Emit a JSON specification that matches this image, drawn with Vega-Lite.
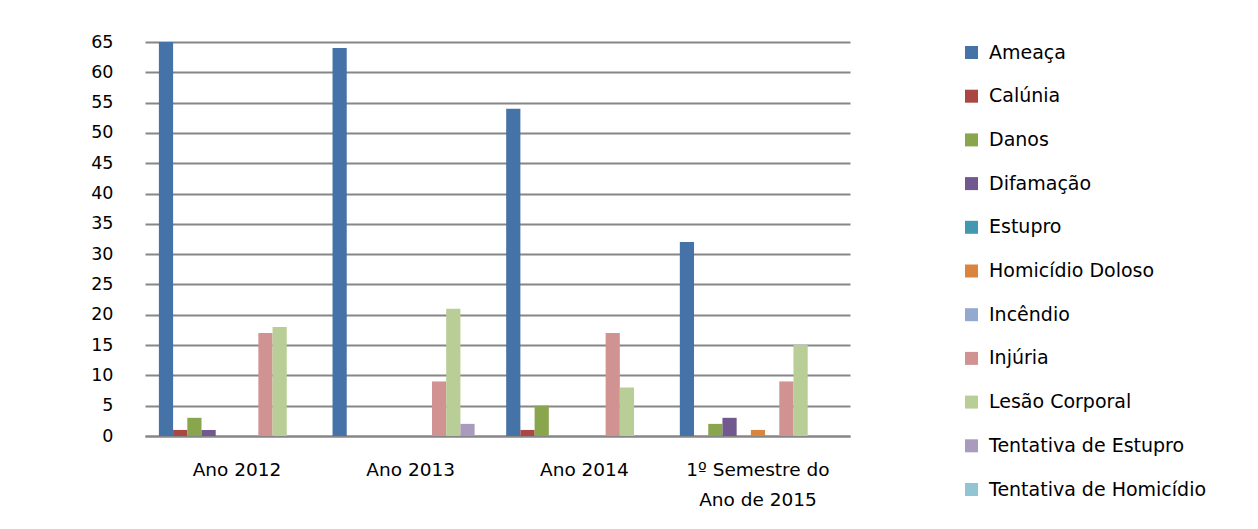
{
  "$schema": "https://vega.github.io/schema/vega-lite/v6.json",
  "autosize": "none",
  "width": 705,
  "height": 394,
  "padding": {"left": 145, "top": 42, "right": 408, "bottom": 93},
  "background": "white",
  "config": {
    "font": "DejaVu Sans",
    "view": {"stroke": null}
  },
  "data": {
    "values": [
      {"periodo": "Ano 2012", "crime": "Ameaça", "valor": 65},
      {"periodo": "Ano 2012", "crime": "Calúnia", "valor": 1},
      {"periodo": "Ano 2012", "crime": "Danos", "valor": 3},
      {"periodo": "Ano 2012", "crime": "Difamação", "valor": 1},
      {"periodo": "Ano 2012", "crime": "Estupro", "valor": 0},
      {"periodo": "Ano 2012", "crime": "Homicídio Doloso", "valor": 0},
      {"periodo": "Ano 2012", "crime": "Incêndio", "valor": 0},
      {"periodo": "Ano 2012", "crime": "Injúria", "valor": 17},
      {"periodo": "Ano 2012", "crime": "Lesão Corporal", "valor": 18},
      {"periodo": "Ano 2012", "crime": "Tentativa de Estupro", "valor": 0},
      {"periodo": "Ano 2012", "crime": "Tentativa de Homicídio", "valor": 0},
      {"periodo": "Ano 2013", "crime": "Ameaça", "valor": 64},
      {"periodo": "Ano 2013", "crime": "Calúnia", "valor": 0},
      {"periodo": "Ano 2013", "crime": "Danos", "valor": 0},
      {"periodo": "Ano 2013", "crime": "Difamação", "valor": 0},
      {"periodo": "Ano 2013", "crime": "Estupro", "valor": 0},
      {"periodo": "Ano 2013", "crime": "Homicídio Doloso", "valor": 0},
      {"periodo": "Ano 2013", "crime": "Incêndio", "valor": 0},
      {"periodo": "Ano 2013", "crime": "Injúria", "valor": 9},
      {"periodo": "Ano 2013", "crime": "Lesão Corporal", "valor": 21},
      {"periodo": "Ano 2013", "crime": "Tentativa de Estupro", "valor": 2},
      {"periodo": "Ano 2013", "crime": "Tentativa de Homicídio", "valor": 0},
      {"periodo": "Ano 2014", "crime": "Ameaça", "valor": 54},
      {"periodo": "Ano 2014", "crime": "Calúnia", "valor": 1},
      {"periodo": "Ano 2014", "crime": "Danos", "valor": 5},
      {"periodo": "Ano 2014", "crime": "Difamação", "valor": 0},
      {"periodo": "Ano 2014", "crime": "Estupro", "valor": 0},
      {"periodo": "Ano 2014", "crime": "Homicídio Doloso", "valor": 0},
      {"periodo": "Ano 2014", "crime": "Incêndio", "valor": 0},
      {"periodo": "Ano 2014", "crime": "Injúria", "valor": 17},
      {"periodo": "Ano 2014", "crime": "Lesão Corporal", "valor": 8},
      {"periodo": "Ano 2014", "crime": "Tentativa de Estupro", "valor": 0},
      {"periodo": "Ano 2014", "crime": "Tentativa de Homicídio", "valor": 0},
      {"periodo": "1º Semestre do Ano de 2015", "crime": "Ameaça", "valor": 32},
      {"periodo": "1º Semestre do Ano de 2015", "crime": "Calúnia", "valor": 0},
      {"periodo": "1º Semestre do Ano de 2015", "crime": "Danos", "valor": 2},
      {"periodo": "1º Semestre do Ano de 2015", "crime": "Difamação", "valor": 3},
      {"periodo": "1º Semestre do Ano de 2015", "crime": "Estupro", "valor": 0},
      {"periodo": "1º Semestre do Ano de 2015", "crime": "Homicídio Doloso", "valor": 1},
      {"periodo": "1º Semestre do Ano de 2015", "crime": "Incêndio", "valor": 0},
      {"periodo": "1º Semestre do Ano de 2015", "crime": "Injúria", "valor": 9},
      {"periodo": "1º Semestre do Ano de 2015", "crime": "Lesão Corporal", "valor": 15},
      {"periodo": "1º Semestre do Ano de 2015", "crime": "Tentativa de Estupro", "valor": 0},
      {"periodo": "1º Semestre do Ano de 2015", "crime": "Tentativa de Homicídio", "valor": 0}
    ]
  },
  "mark": {"type": "bar", "stroke": null},
  "encoding": {
    "x": {
      "field": "periodo",
      "type": "nominal",
      "sort": null,
      "scale": {"paddingInner": 0.1, "paddingOuter": 0.08},
      "axis": {
        "title": null,
        "labelAngle": 0,
        "labelFontSize": 18.5,
        "labelColor": "#000000",
        "labelPadding": 24,
        "labelLineHeight": 30,
        "labelExpr": "datum.value == '1º Semestre do Ano de 2015' ? ['1º Semestre do', 'Ano de 2015'] : datum.value",
        "ticks": false,
        "domainColor": "#868686",
        "domainWidth": 2
      }
    },
    "xOffset": {
      "field": "crime",
      "type": "nominal",
      "sort": null,
      "scale": {"paddingInner": 0}
    },
    "y": {
      "field": "valor",
      "type": "quantitative",
      "scale": {"domain": [0, 65], "nice": false},
      "axis": {
        "title": null,
        "values": [0, 5, 10, 15, 20, 25, 30, 35, 40, 45, 50, 55, 60, 65],
        "labelFontSize": 17.5,
        "labelColor": "#000000",
        "labelPadding": 32,
        "ticks": false,
        "domain": false,
        "gridColor": "#868686",
        "gridWidth": 2,
        "gridOpacity": 1
      }
    },
    "color": {
      "field": "crime",
      "type": "nominal",
      "sort": null,
      "scale": {
        "domain": ["Ameaça", "Calúnia", "Danos", "Difamação", "Estupro", "Homicídio Doloso", "Incêndio", "Injúria", "Lesão Corporal", "Tentativa de Estupro", "Tentativa de Homicídio"],
        "range": ["#4572A7", "#AA4643", "#89A54E", "#71588F", "#4198AF", "#DB843D", "#93A9CF", "#D19392", "#B9CD96", "#A99BBD", "#92C5D4"]
      },
      "legend": {
        "title": null,
        "orient": "none",
        "legendX": 817,
        "legendY": 1,
        "symbolType": "square",
        "symbolSize": 169,
        "symbolStrokeWidth": 0,
        "symbolOpacity": 1,
        "labelFontSize": 19,
        "labelColor": "#000000",
        "labelOffset": 8,
        "rowPadding": 23.7,
        "labelLimit": 300
      }
    }
  }
}
